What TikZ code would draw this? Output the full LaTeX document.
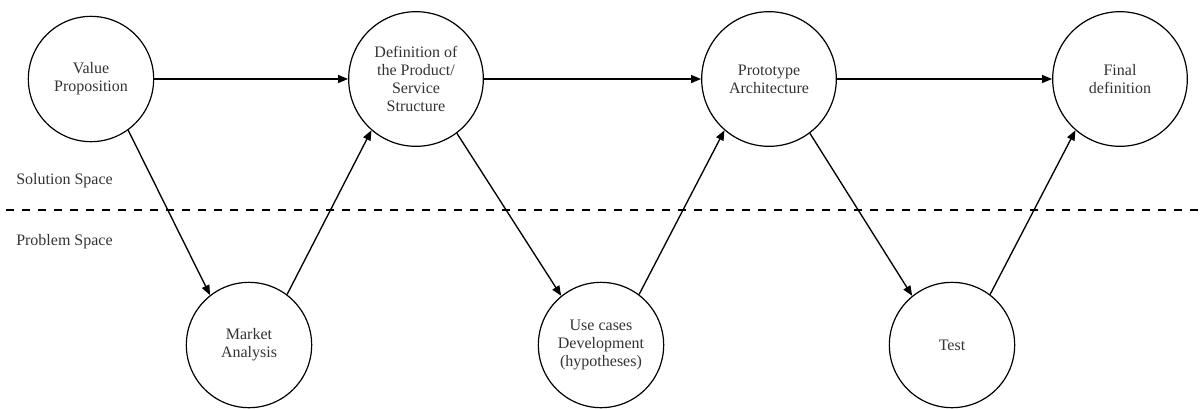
\documentclass[tikz,border=0pt]{standalone}
\usepackage{fontspec}
\setmainfont{Liberation Serif}
\usetikzlibrary{arrows.meta}

\begin{document}
\begin{tikzpicture}[x=0.75pt,y=-0.75pt]
        \tikzstyle{stage}=[circle,draw=black,line width=0.9pt,align=center,text=black!80,font=\fontsize{12}{13.5}\selectfont,inner sep=0pt]
        \tikzstyle{upper}=[stage,minimum size=101pt]
        \tikzstyle{lower}=[stage,minimum size=94pt]
        \tikzstyle{space}=[anchor=west,text=black!80,font=\fontsize{12}{13.5}\selectfont,inner sep=0pt]
        \tikzstyle{flow}=[line width=1pt,-{Triangle[length=7.5pt,width=6pt]}]
        \useasboundingbox (0,0) rectangle (1203,408);

        % solution / problem border
        \draw[line width=1.5pt,dash pattern=on 6pt off 6pt] (6,210) -- (1203,210);
        \node[space] (sol) at (16,181) {Solution Space};
        \node[space] (prob) at (16,242) {Problem Space};

        \node[lower] (vp) at (91,79) {Value\\Proposition};
        \node[upper] (def) at (416,79) {Definition of\\the Product/\\Service\\Structure};
        \node[upper] (proto) at (769,79) {Prototype\\Architecture};
        \node[upper] (final) at (1120,79) {Final\\definition};

        \node[lower] (ma) at (249,345) {Market\\Analysis};
        \node[lower] (uc) at (601,345) {Use cases\\Development\\(hypotheses)};
        \node[lower] (test) at (952,345) {Test};

        \path[flow] (vp) edge (def);
        \path[flow] (def) edge (proto);
        \path[flow] (proto) edge (final);

        \path[flow] (vp.-54) edge (ma.128);
        \path[flow] (ma.53) edge (def.229);
        \path[flow] (def.-53) edge (uc.129);
        \path[flow] (uc.53) edge (proto.229);
        \path[flow] (proto.-53) edge (test.129);
        \path[flow] (test.53) edge (final.229);
    \end{tikzpicture}
\end{document}
